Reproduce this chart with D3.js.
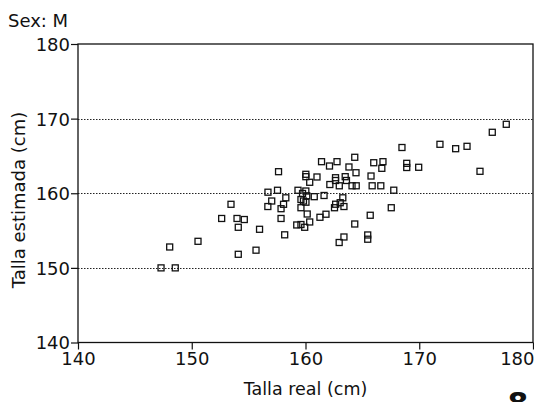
<!DOCTYPE html>
<html>
<head>
<meta charset="utf-8">
<script src="https://cdn.jsdelivr.net/npm/d3@7"></script>
<style>
  body { margin: 0; background: #fff; }
  text { font-family: "DejaVu Sans", sans-serif; fill: #111; }
</style>
</head>
<body>
<div id="wrapper"></div>
<script>
// talla real (x) vs talla estimada (y), sex M
let tallaReal = [147.3, 148.55, 148.06, 150.55, 152.63, 153.45, 153.98, 154.62, 154.09, 154.09,
    155.65, 155.96, 156.7, 157.54, 157.63, 157.03, 156.69, 157.85, 157.85, 158.07,
    158.27, 158.17, 159.23, 159.6, 159.93, 160.37, 160.15, 159.34, 159.74, 160.03,
    159.6, 159.82, 160.04, 160.11, 160.77, 161.63, 159.6, 160.03, 160.03, 161.01,
    160.37, 161.41, 162.11, 162.77, 164.33, 163.82, 164.44, 166.0, 166.81, 166.71,
    165.76, 162.64, 162.64, 163.49, 163.6, 162.14, 162.97, 164.09, 164.46, 165.86,
    166.62, 167.76, 163.28, 162.65, 163.05, 163.38, 162.55, 161.8, 161.27, 165.69,
    167.54, 164.33, 163.38, 162.96, 165.47, 165.47, 168.48, 168.9, 168.9, 169.95,
    171.82, 173.2, 174.2, 175.34, 176.42, 177.65];
let tallaEstimada = [150.0, 150.0, 152.8, 153.56, 156.62, 158.52, 156.62, 156.48, 155.44, 151.82,
    152.37, 155.17, 160.14, 160.4, 162.89, 158.96, 158.22, 157.93, 156.62, 158.52,
    159.39, 154.43, 155.75, 155.81, 155.44, 156.15, 157.22, 160.4, 159.97, 160.3,
    159.16, 158.96, 158.8, 159.66, 159.54, 159.7, 158.06, 162.54, 162.22, 162.18,
    161.47, 164.23, 163.65, 164.23, 164.82, 163.52, 162.75, 164.09, 164.23, 163.34,
    162.31, 162.08, 161.71, 162.22, 161.71, 161.17, 161.0, 161.0, 161.0, 161.0,
    161.0, 160.41, 159.39, 158.53, 158.73, 158.22, 158.06, 157.19, 156.78, 157.05,
    158.06, 155.88, 154.14, 153.4, 154.41, 153.84, 166.13, 164.01, 163.45, 163.48,
    166.56, 165.97, 166.29, 162.94, 168.17, 169.24];
let xTicks = [140, 150, 160, 170, 180];
let yTicks = [140, 150, 160, 170, 180];
let gridVals = [150, 160, 170];

let points = tallaReal.map(function (d, i) { return { x: d, y: tallaEstimada[i] }; });

let width = 534, height = 402;
let plotLeft = 78, plotRight = 533, plotTop = 44, plotBottom = 342.5;

let x = d3.scaleLinear().domain([140, 180]).range([plotLeft, plotRight]);
let y = d3.scaleLinear().domain([140, 180]).range([plotBottom, plotTop]);

let svg = d3.select('#wrapper')
    .append('svg')
    .attr('width', width)
    .attr('height', height);

// dotted reference lines
svg.append('g')
    .selectAll('line')
    .data(gridVals)
    .enter()
    .append('line')
    .attr('x1', plotLeft)
    .attr('x2', plotRight)
    .attr('y1', function (d) { return Math.round(y(d)) + 0.5 })
    .attr('y2', function (d) { return Math.round(y(d)) + 0.5 })
    .style('stroke', '#222')
    .style('stroke-width', 1)
    .style('stroke-dasharray', '1.5,1.5');

// box
svg.append('rect')
    .attr('x', plotLeft)
    .attr('y', plotTop)
    .attr('width', plotRight - plotLeft)
    .attr('height', plotBottom - plotTop)
    .style('fill', 'none')
    .style('stroke', '#111')
    .style('stroke-width', 1.3);

let xAxis = svg.append('g')
    .attr('transform', 'translate(0,' + plotBottom + ')')
    .call(d3.axisBottom(x).tickValues(xTicks).tickSize(7).tickPadding(3));
let yAxis = svg.append('g')
    .attr('transform', 'translate(' + plotLeft + ',0)')
    .call(d3.axisLeft(y).tickValues(yTicks).tickSize(7).tickPadding(1));

[xAxis, yAxis].forEach(function (ax) {
    ax.select('.domain').remove();
    ax.selectAll('line').style('stroke', '#111').style('stroke-width', 1.2);
    ax.selectAll('text')
        .style('font-family', '"DejaVu Sans", sans-serif')
        .style('font-size', '18px')
        .style('fill', '#111');
});
// last label kept inside the page
xAxis.selectAll('.tick')
    .filter(function (d) { return d === 180 })
    .select('text')
    .attr('text-anchor', 'end')
    .attr('dx', 1);
yAxis.selectAll('text').attr('dy', '0.36em');

// markers
svg.append('g')
    .selectAll('rect')
    .data(points)
    .enter()
    .append('rect')
    .attr('x', function (d) { return x(d.x) - 3 })
    .attr('y', function (d) { return y(d.y) - 3 })
    .attr('width', 6)
    .attr('height', 6)
    .style('fill', 'none')
    .style('stroke', '#111')
    .style('stroke-width', 1.3);

svg.append('text')
    .attr('x', 8)
    .attr('y', 27)
    .style('font-size', '18px')
    .text('Sex: M');

svg.append('text')
    .attr('x', (plotLeft + plotRight) / 2)
    .attr('y', 395)
    .attr('text-anchor', 'middle')
    .style('font-size', '17.5px')
    .text('Talla real (cm)');

svg.append('text')
    .attr('transform', 'translate(25,' + 200 + ') rotate(-90)')
    .attr('text-anchor', 'middle')
    .style('font-size', '18px')
    .text('Talla estimada (cm)');

// page number, cut by the edge
svg.append('text')
    .attr('x', 518)
    .attr('y', 414)
    .attr('text-anchor', 'middle')
    .style('font-size', '30px')
    .style('font-weight', 'bold')
    .text('8');
</script>
</body>
</html>
